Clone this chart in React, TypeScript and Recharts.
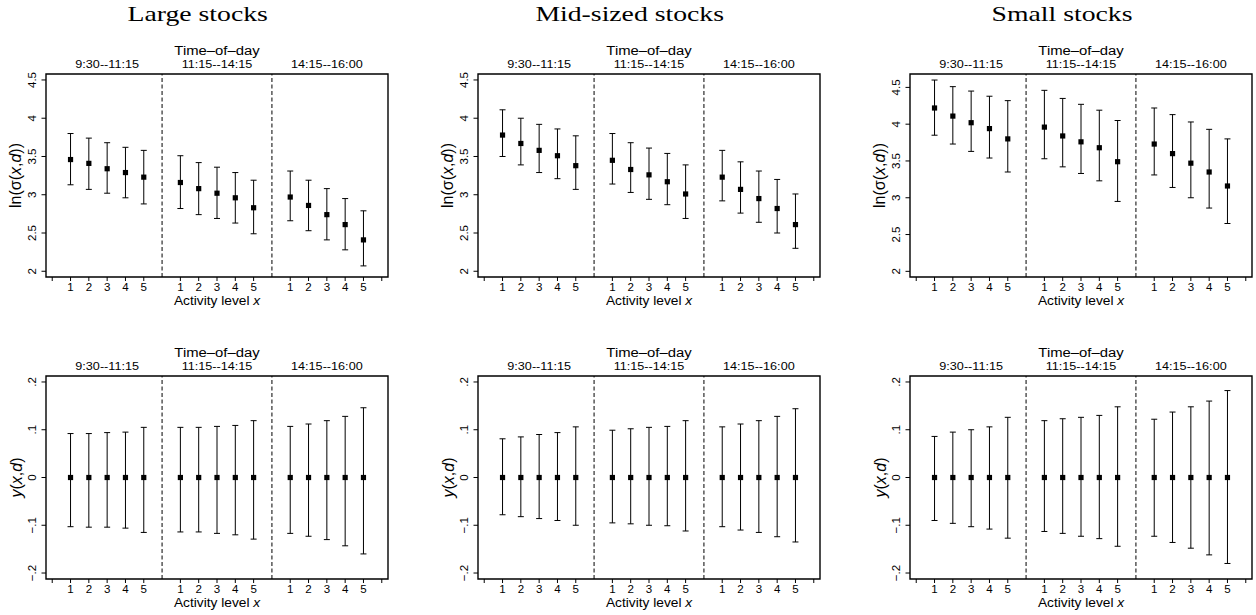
import React from "react";
import { ScatterChart, Scatter, XAxis, YAxis, ErrorBar, ReferenceLine, ReferenceArea } from "recharts";

const timeBins = ["9:30--11:15", "11:15--14:15", "14:15--16:00"];
const activityLevels = [1, 2, 3, 4, 5];

// ln(sigma(x,d)): estimate, upper and lower band, bin by bin, level 1..5
const largeSigma = [3.46, 3.41, 3.34, 3.29, 3.23, 3.16, 3.08, 3.02, 2.96, 2.83, 2.97, 2.86, 2.74, 2.61, 2.41];
const largeSigmaHi = [3.8, 3.74, 3.68, 3.62, 3.58, 3.51, 3.42, 3.36, 3.29, 3.19, 3.31, 3.19, 3.08, 2.95, 2.79];
const largeSigmaLo = [3.13, 3.07, 3.02, 2.96, 2.88, 2.82, 2.74, 2.69, 2.63, 2.49, 2.66, 2.53, 2.41, 2.28, 2.07];

const midSigma = [3.78, 3.67, 3.58, 3.51, 3.38, 3.45, 3.33, 3.26, 3.17, 3.01, 3.23, 3.07, 2.95, 2.82, 2.61];
const midSigmaHi = [4.11, 4.0, 3.92, 3.86, 3.77, 3.8, 3.68, 3.61, 3.54, 3.39, 3.58, 3.43, 3.31, 3.2, 3.01];
const midSigmaLo = [3.5, 3.39, 3.29, 3.21, 3.07, 3.14, 3.03, 2.94, 2.87, 2.69, 2.92, 2.76, 2.64, 2.5, 2.3];

const smallSigma = [4.22, 4.11, 4.02, 3.94, 3.8, 3.96, 3.84, 3.76, 3.68, 3.49, 3.73, 3.6, 3.47, 3.35, 3.16];
const smallSigmaHi = [4.6, 4.51, 4.45, 4.38, 4.32, 4.46, 4.35, 4.27, 4.19, 4.05, 4.22, 4.13, 4.03, 3.93, 3.8];
const smallSigmaLo = [3.85, 3.73, 3.63, 3.54, 3.35, 3.53, 3.42, 3.33, 3.23, 2.95, 3.31, 3.14, 3.0, 2.86, 2.65];

// gamma(x,d): estimate and band
const largeGamma = [0, 0, 0, 0, 0, 0, 0, 0, 0, 0, 0, 0, 0, 0, 0];
const largeGammaHi = [0.092, 0.092, 0.094, 0.095, 0.105, 0.105, 0.105, 0.107, 0.109, 0.119, 0.107, 0.112, 0.119, 0.128, 0.146];
const largeGammaLo = [-0.103, -0.104, -0.104, -0.106, -0.115, -0.114, -0.114, -0.117, -0.12, -0.129, -0.117, -0.123, -0.13, -0.143, -0.16];

const midGamma = [0, 0, 0, 0, 0, 0, 0, 0, 0, 0, 0, 0, 0, 0, 0];
const midGammaHi = [0.081, 0.085, 0.09, 0.094, 0.106, 0.099, 0.102, 0.105, 0.107, 0.119, 0.106, 0.112, 0.119, 0.128, 0.144];
const midGammaLo = [-0.078, -0.082, -0.086, -0.09, -0.1, -0.095, -0.097, -0.1, -0.101, -0.112, -0.103, -0.11, -0.115, -0.124, -0.135];

const smallGamma = [0, 0, 0, 0, 0, 0, 0, 0, 0, 0, 0, 0, 0, 0, 0];
const smallGammaHi = [0.086, 0.095, 0.1, 0.106, 0.126, 0.119, 0.123, 0.126, 0.13, 0.148, 0.122, 0.137, 0.148, 0.16, 0.182];
const smallGammaLo = [-0.09, -0.096, -0.103, -0.108, -0.127, -0.113, -0.117, -0.123, -0.128, -0.144, -0.123, -0.136, -0.148, -0.162, -0.18];

const sigmaTicks = [2, 2.5, 3, 3.5, 4, 4.5];
const sigmaTickLabels = ["2", "2.5", "3", "3.5", "4", "4.5"];
const gammaTicks = [-0.2, -0.1, 0, 0.1, 0.2];
const gammaTickLabels = ["\u2212.2", "\u2212.1", "0", ".1", ".2"];
const titles = ["Large stocks", "Mid-sized stocks", "Small stocks"];

const SANS = "'Liberation Sans', Arial, Helvetica, sans-serif";
const SERIF = "'Liberation Serif', 'Times New Roman', serif";
const SX = 1.1;

const AXIS_W = 60;
const TOP_H = 45;
const BOT_H = 34;
const PLOT_W = 342;
const PLOT_H = 203;
const colLeft = [45.7, 477.7, 910];
const rowTop = [74, 376];
const xDomain: [number, number] = [-0.34, 18.34];
const xTicks = [0, 1, 2, 3, 4, 5, 7, 8, 9, 10, 11, 13, 14, 15, 16, 17, 18];

function buildRows(m: number[], hi: number[], lo: number[]) {
  return m.map((v, i) => ({
    x: Math.floor(i / activityLevels.length) * 6 + activityLevels[i % activityLevels.length],
    m: v,
    err: [v - lo[i], hi[i] - v],
  }));
}

function SquareDot(props: any) {
  const { cx, cy } = props;
  return <rect x={cx - 2.6} y={cy - 2.6} width={5.2} height={5.2} fill="#000" />;
}

function XTick(props: any) {
  const { x, y, payload } = props;
  const lvl = payload.value % 6;
  if (lvl === 0) return <g />;
  return (
    <text transform={`translate(${x},${y + 10.3}) scale(${SX},1)`} textAnchor="middle" fontFamily={SANS} fontSize={10.5} fill="#000">
      {lvl}
    </text>
  );
}

function GroupTick(props: any) {
  const { x, y, payload } = props;
  const idx = Math.round((payload.value - 3) / 6);
  return (
    <text transform={`translate(${x},${y - 6}) scale(${SX},1)`} textAnchor="middle" fontFamily={SANS} fontSize={11.5} fill="#000">
      {timeBins[idx]}
    </text>
  );
}

function YTick(props: any) {
  const { x, y, text } = props;
  return (
    <text transform={`translate(${x - 6},${y}) rotate(-90)`} textAnchor="middle" fontFamily={SANS} fontSize={11.5} fill="#000">
      {text}
    </text>
  );
}

function TopTitle() {
  return (
    <text transform={`translate(${AXIS_W + PLOT_W / 2},${TOP_H - 19.5}) scale(${SX},1)`} textAnchor="middle" fontFamily={SANS} fontSize={13.5} fill="#000">
      Time–of–day
    </text>
  );
}

function BottomTitle() {
  return (
    <text transform={`translate(${AXIS_W + PLOT_W / 2},${TOP_H + PLOT_H + 28}) scale(${SX},1)`} textAnchor="middle" fontFamily={SANS} fontSize={12.5} fill="#000">
      Activity level <tspan fontStyle="italic">x</tspan>
    </text>
  );
}

function SigmaTitle() {
  return (
    <text transform={`translate(${AXIS_W - 25.5},${TOP_H + PLOT_H / 2}) rotate(-90)`} textAnchor="middle" fontFamily={SANS} fontSize={16} fill="#000">
      ln(σ(<tspan fontStyle="italic">x</tspan>,<tspan fontStyle="italic">d</tspan>))
    </text>
  );
}

function GammaTitle() {
  return (
    <text transform={`translate(${AXIS_W - 24},${TOP_H + PLOT_H / 2}) rotate(-90)`} textAnchor="middle" fontFamily={SANS} fontSize={16} fill="#000">
      <tspan fontStyle="italic">y</tspan>(<tspan fontStyle="italic">x</tspan>,<tspan fontStyle="italic">d</tspan>)
    </text>
  );
}

type PanelProps = {
  rows: { x: number; m: number; err: number[] }[];
  yDomain: [number, number];
  yTicks: number[];
  yTickLabels: string[];
  sigma: boolean;
  left: number;
  top: number;
};

function Panel({ rows, yDomain, yTicks, yTickLabels, sigma, left, top }: PanelProps) {
  return (
    <div style={{ position: "absolute", left: left - AXIS_W, top: top - TOP_H }}>
      <ScatterChart width={AXIS_W + PLOT_W + 4} height={TOP_H + PLOT_H + BOT_H} margin={{ top: 0, right: 4, bottom: 0, left: 0 }}>
        <XAxis
          xAxisId="top"
          orientation="top"
          type="number"
          dataKey="x"
          domain={xDomain}
          allowDataOverflow
          ticks={[3, 9, 15]}
          height={TOP_H}
          tickLine={false}
          axisLine={false}
          tickSize={0}
          tickMargin={0}
          tick={<GroupTick />}
          label={<TopTitle />}
        />
        <XAxis
          xAxisId="bottom"
          type="number"
          dataKey="x"
          domain={xDomain}
          allowDataOverflow
          ticks={xTicks}
          interval={0}
          height={BOT_H}
          axisLine={false}
          tickSize={4}
          tickMargin={0}
          tickLine={{ stroke: "#000", strokeWidth: 1 }}
          tick={<XTick />}
          label={<BottomTitle />}
        />
        <YAxis
          yAxisId="y"
          type="number"
          dataKey="m"
          domain={yDomain}
          allowDataOverflow
          ticks={yTicks}
          interval={0}
          width={AXIS_W}
          axisLine={false}
          tickSize={4.5}
          tickMargin={0}
          tickLine={{ stroke: "#000", strokeWidth: 1 }}
          tick={(p: any) => <YTick {...p} text={yTickLabels[yTicks.indexOf(p.payload.value)]} />}
          label={sigma ? <SigmaTitle /> : <GammaTitle />}
        />
        <ReferenceArea
          xAxisId="bottom"
          yAxisId="y"
          x1={xDomain[0]}
          x2={xDomain[1]}
          y1={yDomain[0]}
          y2={yDomain[1]}
          fill="none"
          fillOpacity={0}
          stroke="#000"
          strokeWidth={1.4}
          ifOverflow="visible"
        />
        <ReferenceLine xAxisId="bottom" yAxisId="y" x={6} stroke="#000" strokeDasharray="4 2.5" strokeWidth={1} />
        <ReferenceLine xAxisId="bottom" yAxisId="y" x={12} stroke="#000" strokeDasharray="4 2.5" strokeWidth={1} />
        <Scatter data={rows} xAxisId="bottom" yAxisId="y" fill="#000" shape={<SquareDot />} isAnimationActive={false}>
          <ErrorBar dataKey="err" direction="y" width={3} stroke="#000" strokeWidth={1} isAnimationActive={false} />
        </Scatter>
      </ScatterChart>
    </div>
  );
}

export default function App() {
  const sigmaSets = [
    buildRows(largeSigma, largeSigmaHi, largeSigmaLo),
    buildRows(midSigma, midSigmaHi, midSigmaLo),
    buildRows(smallSigma, smallSigmaHi, smallSigmaLo),
  ];
  const gammaSets = [
    buildRows(largeGamma, largeGammaHi, largeGammaLo),
    buildRows(midGamma, midGammaHi, midGammaLo),
    buildRows(smallGamma, smallGammaHi, smallGammaLo),
  ];
  const sigmaDomains: [number, number][] = [[1.925, 4.578], [1.925, 4.578], [1.923, 4.682]];
  const gammaDomain: [number, number] = [-0.2125, 0.2125];

  return (
    <div style={{ position: "absolute", left: 0, top: 0, width: 1256, height: 615, background: "#fff", overflow: "hidden" }}>
      <svg width={1256} height={32} style={{ position: "absolute", left: 0, top: 0 }}>
        {titles.map((t, i) => (
          <text key={t} transform={`translate(${colLeft[i] + 152},20.7) scale(1.26,1)`} textAnchor="middle" fontFamily={SERIF} fontSize={22} fill="#000">
            {t}
          </text>
        ))}
      </svg>
      {sigmaSets.map((rows, i) => (
        <Panel key={"s" + i} rows={rows} yDomain={sigmaDomains[i]} yTicks={sigmaTicks} yTickLabels={sigmaTickLabels} sigma left={colLeft[i]} top={rowTop[0]} />
      ))}
      {gammaSets.map((rows, i) => (
        <Panel key={"g" + i} rows={rows} yDomain={gammaDomain} yTicks={gammaTicks} yTickLabels={gammaTickLabels} sigma={false} left={colLeft[i]} top={rowTop[1]} />
      ))}
    </div>
  );
}
